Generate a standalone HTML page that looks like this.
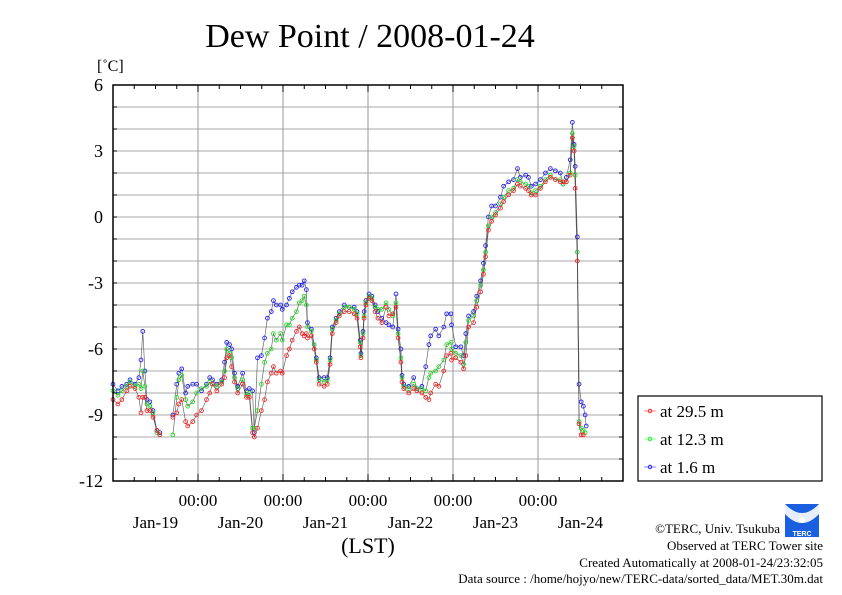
<!DOCTYPE html>
<html><head><meta charset="utf-8"><style>
html,body{margin:0;padding:0;background:#fff;}
svg{display:block;font-family:"Liberation Serif",serif;}
</style></head><body>
<svg id="chart" width="842" height="595" viewBox="0 0 842 595" xmlns="http://www.w3.org/2000/svg">
<text x="370" y="47" font-size="34" text-anchor="middle">Dew Point / 2008-01-24</text>
<text x="97" y="71" font-size="16">[˚C]</text>
<g id="grid"></g>
<g id="series"></g>
<rect x="113" y="85" width="510" height="396" fill="none" stroke="#000" stroke-width="1.5"/>
<g id="axes"></g>
<text x="368" y="553" font-size="22" text-anchor="middle">(LST)</text>
<g>
<rect x="638" y="396" width="184" height="85" fill="#fff" stroke="#000" stroke-width="1.2"/>
<g><line x1="644" y1="411" x2="656" y2="411" stroke="#f66" stroke-width="0.8"/><circle cx="650" cy="411" r="1.8" fill="none" stroke="#f00" stroke-width="0.8"/><text x="660" y="417" font-size="17">at 29.5 m</text></g>
<g><line x1="644" y1="439" x2="656" y2="439" stroke="#6f6" stroke-width="0.8"/><circle cx="650" cy="439" r="1.8" fill="none" stroke="#0e0" stroke-width="0.8"/><text x="660" y="445" font-size="17">at 12.3 m</text></g>
<g><line x1="644" y1="467" x2="656" y2="467" stroke="#66f" stroke-width="0.8"/><circle cx="650" cy="467" r="1.8" fill="none" stroke="#00f" stroke-width="0.8"/><text x="660" y="473" font-size="17">at 1.6 m</text></g>
</g>
<g>
<rect x="785" y="504" width="34" height="33" fill="#1a5fe0"/>
<path d="M785 504 Q802 522 819 504 L819 514 Q802 532 785 514 Z" fill="#fff" opacity="0.9"/>
<circle cx="802" cy="520" r="3" fill="#fff"/>
<text x="802" y="536" font-size="7" fill="#fff" text-anchor="middle" font-family="Liberation Sans,sans-serif" font-weight="bold">TERC</text>
</g>
<g font-size="13" text-anchor="end">
<text x="780" y="533">©TERC, Univ. Tsukuba</text>
<text x="823" y="550">Observed at TERC Tower site</text>
<text x="823" y="567">Created Automatically at 2008-01-24/23:32:05</text>
<text x="823" y="583">Data source : /home/hojyo/new/TERC-data/sorted_data/MET.30m.dat</text>
</g>
</svg>
<script>
const hours=[0,1.4,2.5,3.9,4.8,6.2,7.3,7.9,8.4,9.0,9.6,10.4,11.3,12.4,13.2,15,16.9,18.0,18.6,19.4,20.5,21.1,22.5,23.6,25.0,26.4,27.3,28.1,29.3,30.7,31.5,32.1,32.9,33.5,34.3,35.2,36.6,37.7,38.5,39.4,39.9,40.8,41.9,42.8,43.6,44.7,45.3,46.1,47.3,47.8,49.0,49.8,50.6,51.8,52.6,53.4,54.0,54.6,54.9,56.0,56.8,57.4,58.2,59.6,60.5,61.3,61.9,63.0,63.9,65.3,66.7,68.1,68.9,69.8,70.0,70.6,70.9,71.4,72.3,73.1,74.0,74.8,75.9,77.1,77.9,79.0,79.9,80.5,81.3,81.6,82.1,83.5,84.9,85.8,87.2,88.3,89.2,89.7,91.1,92.0,93.4,94.2,95.4,95.6,96.8,98.2,99.0,99.6,100.4,101.8,102.7,103.8,104.6,105.2,106.0,106.9,108.0,109.4,110.3,111.7,113.1,114.2,115.0,116.5,117.3,118.1,119.3,120.7,122.1,123.5,124.9,126.3,127.1,128.0,129.1,129.7,130.2,130.5,131.1,131.6,132.2,132.8,133.3,133.6];
const blue=[-7.6,-7.9,-7.7,-7.6,-7.4,-7.6,-7.3,-6.5,-5.2,-7.0,-8.3,-8.4,-8.8,-9.7,-9.8,null,-9.0,-7.6,-7.1,-6.9,-8.0,-7.7,-7.6,-7.6,-7.9,-7.6,-7.3,-7.4,-7.6,-7.4,-6.6,-5.7,-5.8,-6.0,-7.1,-7.7,-7.1,-7.9,-7.8,-7.9,-9.8,-6.4,-6.3,-5.5,-4.6,-4.3,-3.8,-4.0,-4.0,-4.2,-4.0,-3.7,-3.4,-3.2,-3.1,-3.1,-2.9,-3.3,-4.8,-5.1,-5.8,-6.4,-7.3,-7.3,-7.3,-6.4,-5.0,-4.6,-4.3,-4.0,-4.1,-4.1,-4.3,-5.6,-6.2,-5.2,-4.3,-3.8,-3.5,-3.6,-4.0,-4.3,-4.6,-4.8,-4.9,-5.0,-3.5,-5.1,-6.0,-7.2,-7.6,-7.7,-7.3,-7.8,-7.7,-6.8,-5.8,-5.4,-5.1,-5.4,-5.0,-4.4,-4.4,-4.9,-5.9,-5.9,-6.3,-5.3,-4.5,-4.3,-3.6,-2.9,-2.1,-1.3,0.0,0.5,0.5,0.9,1.4,1.6,1.7,2.2,1.8,1.9,1.8,1.4,1.5,1.7,2.0,2.2,2.1,2.0,1.5,1.8,2.6,4.3,3.3,2.3,-0.9,-7.6,-8.4,-8.6,-9.0,-9.5];
const green=[-7.9,-8.1,-7.9,-7.7,-7.5,-7.7,-7.6,-7.8,-7.0,-7.7,-8.5,-8.6,-8.9,-9.8,-9.9,null,-9.9,-8.2,-7.4,-7.2,-8.3,-8.6,-8.4,-8.0,-7.8,-7.7,-7.5,-7.6,-7.7,-7.5,-7.0,-6.0,-6.2,-6.4,-7.3,-7.8,-7.4,-8.1,-8.0,-9.6,-9.6,-8.8,-7.6,-6.6,-6.2,-6.0,-5.3,-5.6,-5.3,-5.6,-4.9,-4.9,-4.6,-4.3,-3.9,-3.8,-3.6,-4.0,-5.0,-5.2,-5.8,-6.5,-7.4,-7.5,-7.4,-6.5,-5.1,-4.7,-4.4,-4.1,-4.1,-4.2,-4.4,-5.7,-6.3,-5.3,-4.5,-3.9,-3.6,-3.7,-4.1,-4.2,-4.2,-3.9,-4.2,-4.5,-3.9,-5.3,-6.4,-7.3,-7.7,-7.8,-7.6,-7.8,-7.8,-7.9,-7.3,-7.1,-7.0,-6.8,-6.5,-5.8,-5.7,-6.0,-6.2,-6.3,-6.7,-5.7,-4.7,-4.5,-3.8,-3.1,-2.4,-1.6,-0.4,0.0,0.2,0.6,0.9,1.2,1.3,1.7,1.6,1.5,1.4,1.1,1.2,1.4,1.7,1.9,1.7,1.7,1.5,1.6,2.0,3.8,3.2,1.9,-1.6,-9.3,-9.6,-9.7,-9.8,null];
const red=[-8.3,-8.5,-8.3,-7.9,-7.7,-7.8,-8.2,-8.9,-8.2,-8.2,-8.8,-8.8,-9.1,-9.7,-9.9,null,-9.1,-8.9,-8.5,-8.3,-9.3,-9.5,-9.3,-9.0,-8.8,-8.3,-8.0,-7.6,-7.9,-7.6,-7.3,-6.4,-6.3,-6.8,-7.5,-8.0,-7.6,-8.2,-8.2,-9.8,-10.0,-9.6,-8.8,-8.3,-7.5,-7.1,-6.8,-7.1,-7.0,-7.1,-6.3,-6.0,-5.6,-5.2,-5.0,-5.3,-5.4,-5.3,-5.5,-5.4,-6.0,-6.6,-7.6,-7.7,-7.6,-6.7,-5.3,-4.8,-4.5,-4.3,-4.3,-4.4,-4.6,-5.9,-6.4,-5.5,-4.6,-4.0,-3.7,-3.8,-4.3,-4.6,-4.8,-4.1,-4.5,-4.4,-4.1,-5.5,-6.6,-7.5,-7.8,-8.0,-7.8,-7.9,-8.0,-8.2,-8.3,-8.0,-7.6,-7.7,-7.0,-6.3,-6.2,-6.5,-6.4,-6.6,-6.9,-6.3,-5.0,-4.8,-4.1,-3.4,-2.6,-1.8,-0.6,-0.2,0.1,0.4,0.7,1.0,1.2,1.5,1.4,1.3,1.2,1.0,1.0,1.3,1.6,1.8,1.7,1.6,1.6,1.6,1.9,3.6,3.0,1.3,-2.0,-9.4,-9.9,-9.9,null,null];
const yTicks=[6,3,0,-3,-6,-9,-12];
const xTickLabels=["00:00","00:00","00:00","00:00","00:00"];
const dayLabels=["Jan-19","Jan-20","Jan-21","Jan-22","Jan-23","Jan-24"];

const X0=113,X1=623,Y0=85,Y1=481,HMAX=144,VMIN=-12,VMAX=6;
const sx=h=>X0+(h/HMAX)*(X1-X0);
const sy=v=>Y1-(v-VMIN)/(VMAX-VMIN)*(Y1-Y0);
const NS="http://www.w3.org/2000/svg";
function mk(tag,attrs,parent){const e=document.createElementNS(NS,tag);for(const k in attrs)e.setAttribute(k,attrs[k]);parent.appendChild(e);return e;}
const grid=document.getElementById('grid'),axes=document.getElementById('axes'),ser=document.getElementById('series');
for(let v=VMIN+1;v<VMAX;v++){const l=mk('line',{x1:X0,x2:X1,y1:sy(v),y2:sy(v),stroke:'#aaa','stroke-width':1},grid);

}
for(let d=1;d<6;d++){const l=mk('line',{x1:sx(d*24),x2:sx(d*24),y1:Y0,y2:Y1,stroke:'#999','stroke-width':1},grid);

}
for(let v=VMIN;v<=VMAX;v++){const y=sy(v);mk('line',{x1:X0,x2:X0+4,y1:y,y2:y,stroke:'#000'},axes);mk('line',{x1:X1-4,x2:X1,y1:y,y2:y,stroke:'#000'},axes);}
for(let h=6;h<HMAX;h+=6){const x=sx(h),L=(h%24===0)?7:4;mk('line',{x1:x,x2:x,y1:Y0,y2:Y0+L,stroke:'#000'},axes);mk('line',{x1:x,x2:x,y1:Y1-L,y2:Y1,stroke:'#000'},axes);}
yTicks.forEach(v=>{const t=mk('text',{x:103,y:sy(v)+6,'font-size':18,'text-anchor':'end'},axes);t.textContent=v;

});
xTickLabels.forEach((s,i)=>{const t=mk('text',{x:sx((i+1)*24),y:506,'font-size':17,'text-anchor':'middle'},axes);t.textContent=s;

});
dayLabels.forEach((s,i)=>{const t=mk('text',{x:sx(i*24+12),y:528,'font-size':17,'text-anchor':'middle'},axes);t.textContent=s;

});
function draw(vals,col,name){
  const g=mk('g',{},ser);
  
  
  let d='',pen=false;
  vals.forEach((v,i)=>{if(v===null){pen=false;return;}d+=(pen?'L':'M')+sx(hours[i]).toFixed(1)+' '+sy(v).toFixed(1)+' ';pen=true;});
  const p=mk('path',{d:d,fill:'none',stroke:'#444','stroke-width':0.7,'stroke-opacity':0.8},g);
  
  
  vals.forEach((v,i)=>{if(v===null)return;const c=mk('circle',{cx:sx(hours[i]),cy:sy(v),r:1.9,fill:'none',stroke:col,'stroke-width':0.9},g);
  
  });
}
draw(blue,'#2222ff','series-1-6m');
draw(green,'#22dd22','series-12-3m');
draw(red,'#ff2222','series-29-5m');
</script>
</body></html>
